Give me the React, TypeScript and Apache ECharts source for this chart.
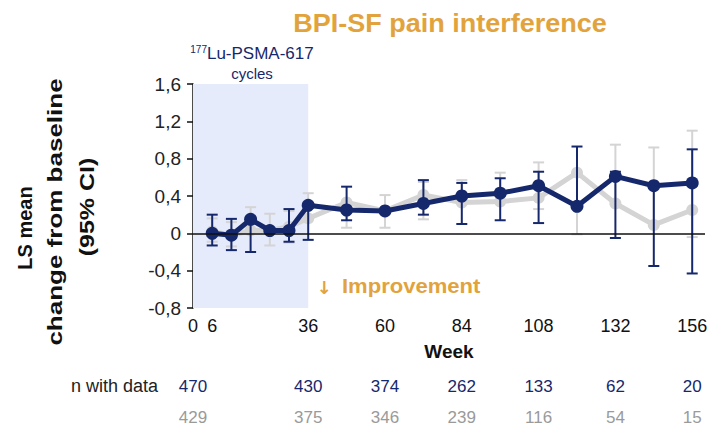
import React, { useEffect, useRef } from "react";
import * as echarts from "echarts";

const weeks = [6, 12, 18, 24, 30, 36, 48, 60, 72, 84, 96, 108, 120, 132, 144, 156];
const blueMean = [0.0, -0.02, 0.15, 0.03, 0.03, 0.3, 0.25, 0.24, 0.32, 0.4, 0.43, 0.51, 0.29, 0.61, 0.51, 0.54];
const grayMean = [0.02, -0.02, 0.03, 0.03, 0.07, 0.16, 0.33, 0.24, 0.41, 0.33, 0.34, 0.38, 0.65, 0.32, 0.09, 0.25];
const blueUpper = [0.2, 0.155, null, null, 0.26, null, 0.5, null, 0.57, 0.54, 0.59, 0.66, 0.93, 0.66, null, 0.9];
const blueLower = [-0.13, -0.18, -0.2, null, -0.09, -0.07, 0.14, null, 0.2, 0.1, 0.14, 0.11, null, -0.05, -0.35, -0.43];
const grayUpper = [0.16, 0.12, 0.28, 0.21, 0.24, 0.43, null, 0.41, 0.55, 0.57, 0.65, 0.76, null, 0.95, 0.92, 1.1];
const grayLower = [-0.09, -0.14, null, -0.13, -0.1, null, 0.06, 0.06, 0.15, null, null, 0.26, -0.01, null, null, -0.04];

const xTickLabels = [0, 6, 36, 60, 84, 108, 132, 156];
const nWeeks = [0, 36, 60, 84, 108, 132, 156];
const nBlue = [470, 430, 374, 262, 133, 62, 20];
const nGray = [429, 375, 346, 239, 116, 54, 15];

const BLUE = "#16286c";
const GRAY = "#d4d4d4";
const ORANGE = "#e2a33c";

function barData(means: number[], bounds: (number | null)[]) {
  const out: number[][] = [];
  weeks.forEach((w, i) => {
    const b = bounds[i];
    if (b !== null && b !== undefined) out.push([w, means[i], b]);
  });
  return out;
}

function barSeries(means: number[], bounds: (number | null)[], color: string, z: number) {
  return {
    type: "custom",
    z,
    silent: true,
    encode: { x: 0, y: 1 },
    data: barData(means, bounds),
    renderItem: (params: any, api: any) => {
      const p0 = api.coord([api.value(0), api.value(1)]);
      const p1 = api.coord([api.value(0), api.value(2)]);
      const cap = 11;
      return {
        type: "group",
        children: [
          { type: "line", shape: { x1: p0[0], y1: p0[1], x2: p1[0], y2: p1[1] }, style: { stroke: color, lineWidth: 2 } },
          { type: "line", shape: { x1: p1[0] - cap / 2, y1: p1[1], x2: p1[0] + cap / 2, y2: p1[1] }, style: { stroke: color, lineWidth: 2 } },
        ],
      };
    },
  };
}

function nAxis(values: number[], color: string, offset: number) {
  return {
    type: "value",
    min: 0,
    max: 160,
    interval: 6,
    position: "bottom",
    offset,
    axisLine: { show: false },
    axisTick: { show: false },
    splitLine: { show: false },
    axisLabel: {
      margin: 0,
      fontSize: 17,
      fontFamily: "'Liberation Sans Narrow', 'Liberation Sans', Arial, sans-serif",
      color,
      formatter: (v: number) => {
        const i = nWeeks.indexOf(v);
        return i >= 0 ? String(values[i]) : "";
      },
    },
  };
}

export default function App() {
  const ref = useRef<HTMLDivElement>(null);
  useEffect(() => {
    if (!ref.current) return;
    const chart = echarts.init(ref.current, undefined, { renderer: "svg" });
    const font = "'Liberation Sans', Arial, sans-serif";
    chart.setOption({
      animation: false,
      textStyle: { fontFamily: font },
      grid: { left: 193, right: 8, top: 84, bottom: 122 },
      xAxis: [
        {
          type: "value",
          min: 0,
          max: 160,
          interval: 6,
          name: "Week",
          nameLocation: "middle",
          nameGap: 34,
          nameTextStyle: { fontSize: 19, fontWeight: "bold", color: "#111" },
          axisLine: { show: false },
          axisTick: { show: false },
          splitLine: { show: false },
          axisLabel: {
            margin: 9,
            fontSize: 18,
            fontFamily: "'Liberation Sans Narrow', 'Liberation Sans', Arial, sans-serif",
            color: "#111",
            formatter: (v: number) => (xTickLabels.indexOf(v) >= 0 ? String(v) : ""),
          },
        },
        nAxis(nBlue, BLUE, 70),
        nAxis(nGray, "#9a9a9a", 101),
      ],
      yAxis: {
        type: "value",
        min: -0.8,
        max: 1.6,
        interval: 0.4,
        axisLine: { show: true, lineStyle: { color: "#111", width: 1.5 } },
        axisTick: { show: true, length: 6, lineStyle: { color: "#111", width: 1.5 } },
        splitLine: { show: false },
        axisLabel: {
          margin: 12,
          fontSize: 19,
          color: "#222",
          formatter: (v: number) => {
            const r = Math.round(v * 10) / 10;
            return r === 0 ? "0" : r.toFixed(1).replace(".", ",");
          },
        },
      },
      graphic: [
        {
          type: "text",
          x: 450,
          y: 23,
          scaleX: 1.08,
          style: { text: "BPI-SF pain interference", font: `bold 25px ${font}`, fill: ORANGE, align: "center", verticalAlign: "middle" },
        },
        {
          type: "text",
          x: 252,
          y: 53,
          style: {
            text: "{s|177}{n|Lu-PSMA-617}",
            align: "center",
            verticalAlign: "middle",
            rich: {
              s: { fontSize: 10, fill: BLUE, verticalAlign: "top", fontFamily: font, padding: [0, 0, 8, 0] },
              n: { fontSize: 17, fill: BLUE, fontFamily: font },
            },
          },
        },
        {
          type: "text",
          x: 252,
          y: 73,
          style: { text: "cycles", font: `15px ${font}`, fill: BLUE, align: "center", verticalAlign: "middle" },
        },
        {
          type: "text",
          x: 324,
          y: 287,
          style: { text: "↓", font: `bold 18px 'DejaVu Sans', sans-serif`, fill: ORANGE, align: "center", verticalAlign: "middle" },
        },
        {
          type: "text",
          x: 342,
          y: 286,
          scaleX: 1.05,
          style: { text: "Improvement", font: `bold 21px ${font}`, fill: ORANGE, align: "left", verticalAlign: "middle" },
        },
        {
          type: "text",
          x: 158,
          y: 386,
          style: { text: "n with data", font: `18px ${font}`, fill: "#222", align: "right", verticalAlign: "middle" },
        },
        {
          type: "text",
          x: 25,
          y: 228,
          rotation: Math.PI / 2,
          style: { text: "LS mean", font: `bold 20px ${font}`, fill: "#111", align: "center", verticalAlign: "middle" },
        },
        {
          type: "text",
          x: 55,
          y: 212,
          rotation: Math.PI / 2,
          scaleX: 1.3,
          style: { text: "change from baseline", font: `bold 20px ${font}`, fill: "#111", align: "center", verticalAlign: "middle" },
        },
        {
          type: "text",
          x: 87,
          y: 207,
          rotation: Math.PI / 2,
          scaleX: 1.25,
          style: { text: "(95% CI)", font: `bold 20px ${font}`, fill: "#111", align: "center", verticalAlign: "middle" },
        },
      ],
      series: [
        {
          type: "line",
          data: [],
          z: 0,
          silent: true,
          markArea: {
            silent: true,
            itemStyle: { color: "#e5ebfb" },
            data: [[{ xAxis: 0 }, { xAxis: 36 }]],
          },
          markLine: {
            silent: true,
            symbol: "none",
            label: { show: false },
            lineStyle: { color: "#111", width: 1.5, type: "solid" },
            data: [{ yAxis: 0 }],
          },
        },
        barSeries(grayMean, grayUpper, GRAY, 1),
        barSeries(grayMean, grayLower, GRAY, 1),
        {
          type: "line",
          z: 2,
          data: weeks.map((w, i) => [w, grayMean[i]]),
          symbol: "circle",
          symbolSize: 12,
          lineStyle: { color: GRAY, width: 5 },
          itemStyle: { color: GRAY },
          silent: true,
        },
        barSeries(blueMean, blueUpper, BLUE, 3),
        barSeries(blueMean, blueLower, BLUE, 3),
        {
          type: "line",
          z: 4,
          data: weeks.map((w, i) => [w, blueMean[i]]),
          symbol: "circle",
          symbolSize: 13,
          lineStyle: { color: BLUE, width: 5 },
          itemStyle: { color: BLUE },
          silent: true,
        },
      ],
    });
    return () => chart.dispose();
  }, []);
  return <div ref={ref} style={{ position: "absolute", left: 0, top: 0, width: 713, height: 430 }} />;
}
